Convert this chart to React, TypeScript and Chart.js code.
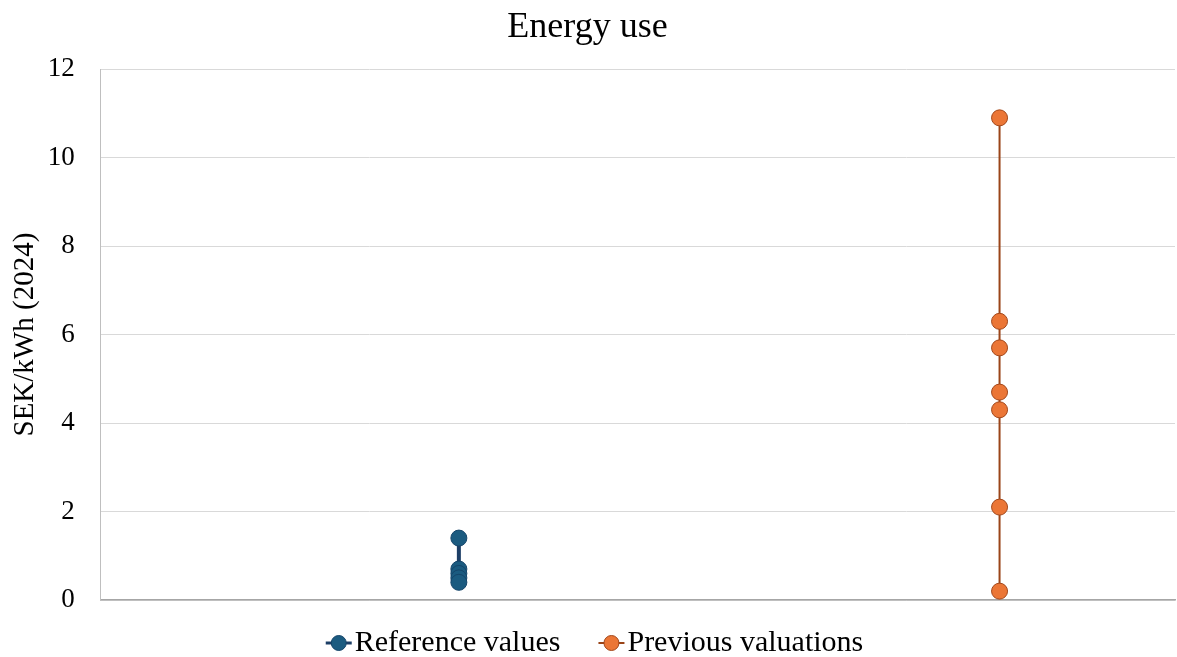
import React, { useEffect, useRef } from "react";
import { Chart, registerables } from "chart.js";

Chart.register(...registerables);

const seriesNames = ["Reference values", "Previous valuations"];
const seriesX = [1, 2.51];
const referenceValues = [1.4, 0.7, 0.6, 0.5, 0.4];
const previousValuations = [10.9, 6.3, 5.7, 4.7, 4.3, 2.1, 0.2];
const yTicks = [0, 2, 4, 6, 8, 10, 12];

const blueFill = "#1b5b80";
const blueBorder = "#15456a";
const blueLine = "#1c3e66";
const orangeFill = "#eb7636";
const orangeBorder = "#a2471a";
const orangeLine = "#9a4418";
const fontFamily = "Liberation Serif";

const seriesStyles = [
  { fill: blueFill, border: blueBorder, line: blueLine, lineWidth: 3 },
  { fill: orangeFill, border: orangeBorder, line: orangeLine, lineWidth: 2 },
];

const customLegend = {
  id: "customLegend",
  afterDraw(chart: any) {
    const ctx = chart.ctx as CanvasRenderingContext2D;
    ctx.save();
    ctx.font = `30px "${fontFamily}"`;
    ctx.textBaseline = "middle";
    ctx.textAlign = "left";
    const markerW = 26;
    const gapText = 3;
    const gapItems = 38;
    const widths = seriesNames.map((n) => markerW + gapText + ctx.measureText(n).width);
    const total = widths.reduce((a, b) => a + b, 0) + gapItems * (seriesNames.length - 1);
    let x = chart.width / 2 - total / 2 + 6;
    const y = 643;
    seriesNames.forEach((n, i) => {
      const s = seriesStyles[i];
      ctx.strokeStyle = s.line;
      ctx.lineWidth = s.lineWidth;
      ctx.beginPath();
      ctx.moveTo(x, y);
      ctx.lineTo(x + markerW, y);
      ctx.stroke();
      ctx.beginPath();
      ctx.arc(x + markerW / 2, y, 7.5, 0, Math.PI * 2);
      ctx.fillStyle = s.fill;
      ctx.fill();
      ctx.lineWidth = 1;
      ctx.strokeStyle = s.border;
      ctx.stroke();
      ctx.fillStyle = "#000";
      ctx.fillText(n, x + markerW + gapText, y);
      x += widths[i] + gapItems;
    });
    ctx.restore();
  },
};

export default function App() {
  const ref = useRef<HTMLCanvasElement | null>(null);
  useEffect(() => {
    if (!ref.current) return;
    const chart = new Chart(ref.current, {
      type: "scatter",
      data: {
        datasets: [
          {
            label: seriesNames[0],
            data: referenceValues.map((v) => ({ x: seriesX[0], y: v })),
            showLine: true,
            borderColor: blueLine,
            borderWidth: 4,
            pointRadius: 8,
            pointBackgroundColor: blueFill,
            pointBorderColor: blueBorder,
            pointBorderWidth: 1,
            clip: false,
          },
          {
            label: seriesNames[1],
            data: previousValuations.map((v) => ({ x: seriesX[1], y: v })),
            showLine: true,
            borderColor: orangeLine,
            borderWidth: 2,
            pointRadius: 8,
            pointBackgroundColor: orangeFill,
            pointBorderColor: orangeBorder,
            pointBorderWidth: 1,
            clip: false,
          },
        ],
      },
      plugins: [customLegend],
      options: {
        animation: false,
        responsive: false,
        maintainAspectRatio: false,
        layout: { autoPadding: false, padding: { left: 0, right: 2, top: 0, bottom: 57 } },
        plugins: {
          title: {
            display: true,
            text: "Energy use",
            color: "#000",
            font: { family: fontFamily, size: 36, weight: "normal" },
            padding: { top: 6, bottom: 20 },
          },
          legend: { display: false },
          tooltip: { enabled: false },
        },
        scales: {
          x: {
            type: "linear",
            min: 0,
            max: 3,
            ticks: { display: false },
            grid: { display: false, drawTicks: false },
            border: { display: true, color: "#a6a6a6", width: 1.5 },
          },
          y: {
            min: 0,
            max: 12,
            afterBuildTicks: (axis: any) => {
              axis.ticks = yTicks.map((v) => ({ value: v }));
            },
            ticks: {
              color: "#000",
              font: { family: fontFamily, size: 27 },
              padding: 26,
            },
            grid: { color: "#d9d9d9", lineWidth: 1, drawTicks: false },
            border: { display: true, color: "#bfbfbf" },
            title: {
              display: true,
              text: "SEK/kWh (2024)",
              color: "#000",
              font: { family: fontFamily, size: 29 },
              padding: { top: 8, bottom: -21 },
            },
          },
        },
      },
    });
    return () => chart.destroy();
  }, []);
  return (
    <div style={{ position: "fixed", left: 0, top: 0, width: 1177, height: 657, background: "#fff" }}>
      <canvas ref={ref} width={1177} height={657} style={{ width: 1177, height: 657 }} />
    </div>
  );
}
